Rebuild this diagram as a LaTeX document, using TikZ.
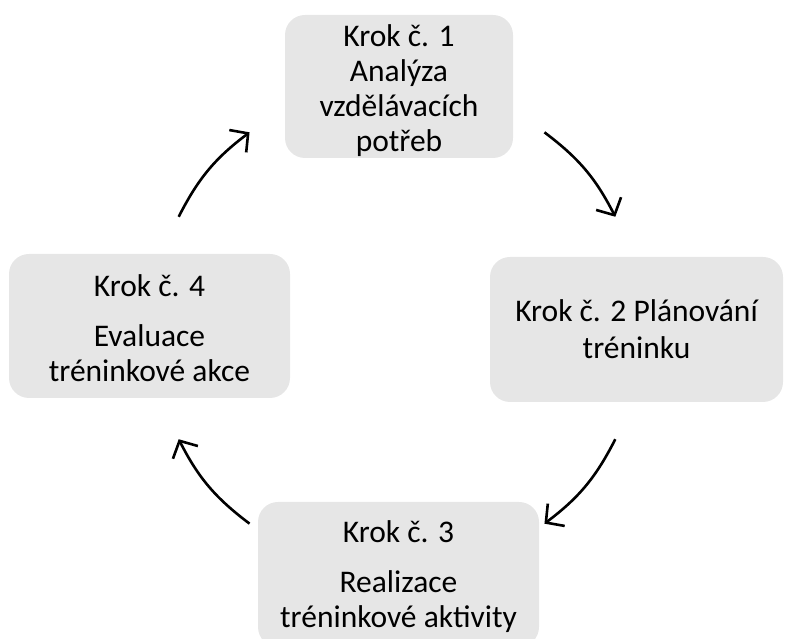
\documentclass[tikz,border=0pt]{standalone}
\usepackage{fontspec}
\setmainfont{Carlito}
\usetikzlibrary{arrows.meta}
\definecolor{boxgray}{RGB}{230,230,230}

\begin{document}
\begin{tikzpicture}[x=1pt, y=1pt,
    krok/.style={fill=boxgray, rounded corners=20pt, align=center, inner sep=0pt,
      font=\fontsize{31.5}{35}\selectfont},
    sipka/.style={line width=2.6pt, -{Straight Barb[length=13pt,width=28pt]}, bend left=13}]
  % \draw [step=50, gray, very thin] (0, 0) grid (785, 639);
  \clip (0, 0) rectangle (785, 639);
  \node [krok, minimum width=228pt, minimum height=143pt] (k1) at (399, 552.5) {\rule{0pt}{30pt}Krok č. 1\\Analýza\\vzdělávacích\\potřeb};
  \node [krok, minimum width=293pt, minimum height=145pt] (k2) at (636.5, 309.5) {Krok č. 2 Plánování\\[2pt]tréninku};
  \node [krok, minimum width=281pt, minimum height=145pt] (k3) at (398.5, 64.5) {\rule{0pt}{27pt}Krok č. 3\\[15pt]Realizace\\tréninkové aktivity};
  \node [krok, minimum width=281pt, minimum height=144pt] (k4) at (149.5, 313) {\rule{0pt}{27pt}Krok č. 4\\[15pt]Evaluace\\tréninkové akce};
  % arrows on a circle round the middle
  \coordinate (c) at (397, 311);
  \coordinate (a1) at ([shift={(53:245)}]c);
  \coordinate (b1) at ([shift={(27:245)}]c);
  \coordinate (a2) at ([shift={(-27:245)}]c);
  \coordinate (b2) at ([shift={(-53:245)}]c);
  \coordinate (a3) at ([shift={(-127:245)}]c);
  \coordinate (b3) at ([shift={(-153:245)}]c);
  \coordinate (a4) at ([shift={(153:245)}]c);
  \coordinate (b4) at ([shift={(127:245)}]c);
  \draw [sipka] (a1) to (b1);
  \draw [sipka] (a2) to (b2);
  \draw [sipka] (a3) to (b3);
  \draw [sipka] (a4) to (b4);
\end{tikzpicture}
\end{document}
